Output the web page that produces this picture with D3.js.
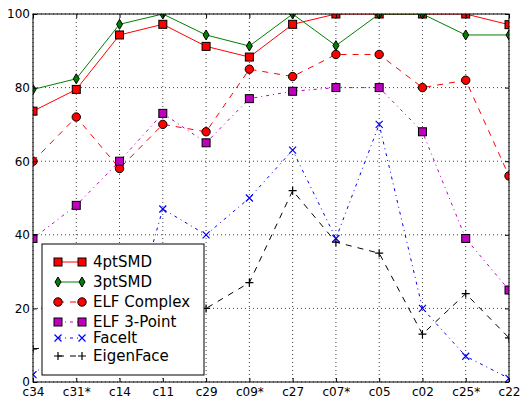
<!DOCTYPE html>
<html>
<head>
<meta charset="utf-8">
<script src="https://cdn.jsdelivr.net/npm/d3@7"></script>
<style>
  body { margin: 0; background: #fff; }
  text { font-family: "DejaVu Sans", sans-serif; }
</style>
</head>
<body>
<div id="chart"></div>
<script>
// Data
const categories = ["c34","c31*","c14","c11","c29","c09*","c27","c07*","c05","c02","c25*","c22"]
const yTicks = [0, 20, 40, 60, 80, 100]

const smd4 = [73.6, 79.5, 94.3, 97.2, 91.2, 88.3, 97.2, 100, 100, 100, 100, 97.1]
const smd3 = [79.5, 82.4, 97.2, 100, 94.3, 91.3, 100, 91.4, 100, 100, 94.3, 94.3]
const elfComplex = [60, 72, 58, 70, 68, 85, 83, 89, 89, 80, 82, 56]
const elf3 = [39, 48, 60, 73, 65, 77, 79, 80, 80, 68, 39, 25]
const faceIt = [2, 12, 6, 47, 40, 50, 63, 39, 70, 20, 7, 1]
const eigenFace = [9, 10, 13, 17, 20, 27, 52, 38, 35, 13, 24, 12]

const seriesNames = ["4ptSMD","3ptSMD","ELF Complex","ELF 3-Point","FaceIt","EigenFace"]

// Setup
const width = 521, height = 401
const margin = {top: 14, right: 12, bottom: 19, left: 33}
const innerW = width - margin.left - margin.right
const innerH = height - margin.top - margin.bottom

const svg = d3.select("#chart").append("svg")
  .attr("width", width)
  .attr("height", height)

const g = svg.append("g").attr("transform", `translate(${margin.left},${margin.top})`)

const x = d3.scalePoint().domain(categories).range([0, innerW])
const y = d3.scaleLinear().domain([0, 100]).range([innerH, 0])

svg.append("defs").append("clipPath").attr("id", "clip")
  .append("rect").attr("width", innerW).attr("height", innerH)

// grid
g.append("g").selectAll("line.vg").data(categories).enter().append("line")
  .attr("x1", d => x(d)).attr("x2", d => x(d))
  .attr("y1", 0).attr("y2", innerH)
  .attr("stroke", "#000").attr("stroke-width", 1).attr("stroke-dasharray", "1,3")
  .attr("opacity", 0.75)
g.append("g").selectAll("line.hg").data(yTicks).enter().append("line")
  .attr("y1", d => y(d)).attr("y2", d => y(d))
  .attr("x1", 0).attr("x2", innerW)
  .attr("stroke", "#000").attr("stroke-width", 1).attr("stroke-dasharray", "1,3")
  .attr("opacity", 0.75)

// series styles
const series = [
  {name: seriesNames[0], values: smd4, color: "#ff0000", dash: null, marker: "square", fill: "#ff0000"},
  {name: seriesNames[1], values: smd3, color: "#008000", dash: null, marker: "diamond", fill: "#008000"},
  {name: seriesNames[2], values: elfComplex, color: "#ff0000", dash: "6,6", marker: "circle", fill: "#ff0000"},
  {name: seriesNames[3], values: elf3, color: "#bf00bf", dash: "3,4,1,4", marker: "square", fill: "#bf00bf"},
  {name: seriesNames[4], values: faceIt, color: "#0000ff", dash: "3,4,1,4", marker: "x", fill: "none"},
  {name: seriesNames[5], values: eigenFace, color: "#000000", dash: "6,6", marker: "plus", fill: "none"}
]

function drawMarker(sel, s) {
  if (s.marker === "square") {
    sel.append("rect").attr("x", -4).attr("y", -4).attr("width", 8).attr("height", 8)
      .attr("fill", s.fill).attr("stroke", "#000").attr("stroke-width", 1)
  } else if (s.marker === "circle") {
    sel.append("circle").attr("r", 4.2)
      .attr("fill", s.fill).attr("stroke", "#000").attr("stroke-width", 1)
  } else if (s.marker === "diamond") {
    sel.append("path").attr("d", "M0,-5L3,0L0,5L-3,0Z")
      .attr("fill", s.fill).attr("stroke", "#000").attr("stroke-width", 1)
  } else if (s.marker === "x") {
    sel.append("path").attr("d", "M-3.5,-3.5L3.5,3.5M-3.5,3.5L3.5,-3.5")
      .attr("stroke", s.color).attr("stroke-width", 1.2)
  } else if (s.marker === "plus") {
    sel.append("path").attr("d", "M-4,0L4,0M0,-4L0,4")
      .attr("stroke", s.color).attr("stroke-width", 1.2)
  }
}

const line = d3.line().x((d, i) => x(categories[i])).y(d => y(d))

const plot = g.append("g").attr("clip-path", "url(#clip)")

series.forEach(s => {
  plot.append("path")
    .datum(s.values)
    .attr("d", line)
    .attr("fill", "none")
    .attr("stroke", s.color)
    .attr("stroke-width", 1)
    .attr("stroke-dasharray", s.dash)
  plot.append("g").selectAll("g").data(s.values).enter().append("g")
    .attr("transform", (d, i) => `translate(${x(categories[i])},${y(d)})`)
    .each(function() { drawMarker(d3.select(this), s) })
})

// axes
const xAxis = g.append("g").attr("transform", `translate(0,${innerH})`)
  .call(d3.axisBottom(x).tickSize(0).tickPadding(5))
xAxis.select(".domain").remove()
xAxis.selectAll("text").attr("font-size", 12).attr("fill", "#000")

const yAxis = g.append("g")
  .call(d3.axisLeft(y).tickValues(yTicks).tickSize(0).tickPadding(3))
yAxis.select(".domain").remove()
yAxis.selectAll("text").attr("font-size", 12).attr("fill", "#000")

// inward ticks on all sides
g.append("g").attr("transform", `translate(0,${innerH})`)
  .call(d3.axisBottom(x).tickSize(-4).tickFormat(""))
  .call(a => a.select(".domain").remove())
g.append("g")
  .call(d3.axisTop(x).tickSize(-4).tickFormat(""))
  .call(a => a.select(".domain").remove())
g.append("g")
  .call(d3.axisLeft(y).tickValues(yTicks).tickSize(-4).tickFormat(""))
  .call(a => a.select(".domain").remove())
g.append("g").attr("transform", `translate(${innerW},0)`)
  .call(d3.axisRight(y).tickValues(yTicks).tickSize(-4).tickFormat(""))
  .call(a => a.select(".domain").remove())

g.append("rect").attr("width", innerW).attr("height", innerH)
  .attr("fill", "none").attr("stroke", "#000").attr("stroke-width", 1)

// legend
const legend = svg.append("g").attr("transform", "translate(42,244)")
legend.append("rect").attr("width", 162).attr("height", 131)
  .attr("fill", "#fff").attr("stroke", "#000").attr("stroke-width", 1)

const rowY = [18, 38, 58, 78, 94, 112]
series.forEach((s, i) => {
  const row = legend.append("g").attr("transform", `translate(0,${rowY[i]})`)
  row.append("line").attr("x1", 16).attr("x2", 40).attr("y1", 0).attr("y2", 0)
    .attr("stroke", s.color).attr("stroke-width", 1).attr("stroke-dasharray", s.dash)
  drawMarker(row.append("g").attr("transform", "translate(16,0)"), s)
  drawMarker(row.append("g").attr("transform", "translate(40,0)"), s)
  row.append("text").attr("x", 51).attr("y", 0).attr("dy", "0.36em")
    .attr("font-size", 15).text(s.name)
})
</script>
</body>
</html>
